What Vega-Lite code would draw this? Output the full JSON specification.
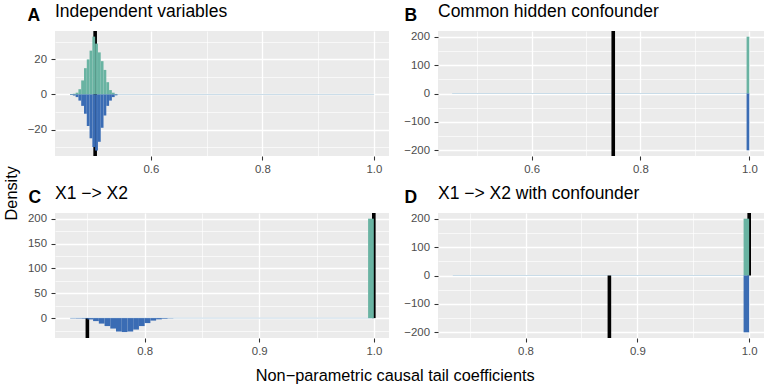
{
  "$schema": "https://vega.github.io/schema/vega-lite/v6.json",
  "autosize": {"type": "pad"},
  "padding": {"left": 3, "top": 2, "right": 0, "bottom": 0},
  "background": "white",
  "title": {"text": "Density", "orient": "left", "anchor": "middle", "frame": "bounds", "fontSize": 16.3, "fontWeight": "normal", "baseline": "alphabetic", "offset": -6, "color": "#000000"},
  "config": {
    "view": {"fill": "#EBEBEB", "stroke": null},
    "font": "Liberation Sans",
    "axis": {"domain": false, "gridColor": "#FFFFFF", "tickColor": "#333333", "tickWidth": 1.07, "tickSize": 4, "labelColor": "#4D4D4D", "labelFontSize": 11.4, "labelFont": "Liberation Sans", "titleFont": "Liberation Sans", "titleColor": "#000000"},
    "axisX": {"labelPadding": 3.5},
    "axisY": {"labelPadding": 4.5},
    "title": {"fontSize": 17.5, "fontWeight": "normal", "anchor": "start", "frame": "group", "color": "#000000", "font": "Liberation Sans", "baseline": "alphabetic", "offset": -14}
  },
  "columns": 2,
  "spacing": {"row": 57, "column": 49},
  "bounds": "flush",
  "concat": [
    {
      "width": 334, "height": 125,
      "title": {"text": "Independent variables"},
      "encoding": {
        "x": {"field": "x", "type": "quantitative", "scale": {"domain": [0.428, 1.027], "nice": false, "zero": false},
          "axis": {"title": null, "values": [0.5, 0.6, 0.7, 0.8, 0.9, 1], "format": ".1f",
            "labelExpr": "indexof([0.6, 0.8, 1], datum.value) >= 0 ? datum.label : ''",
            "gridWidth": {"condition": {"test": "indexof([0.6, 0.8, 1], datum.value) >= 0", "value": 1.3}, "value": 0.65},
            "tickOpacity": {"condition": {"test": "indexof([0.6, 0.8, 1], datum.value) >= 0", "value": 1}, "value": 0}}},
        "y": {"field": "y", "type": "quantitative", "scale": {"domain": [-35.1, 36.2], "nice": false, "zero": false},
          "axis": {"title": "A", "titleAngle": 0, "titleAlign": "left", "titleBaseline": "alphabetic", "titleX": -28, "titleY": -11, "titleFontSize": 17.5, "titleFontWeight": "bold",
            "values": [-30, -20, -10, 0, 10, 20, 30],
            "labelExpr": "indexof([-20, 0, 20], datum.value) >= 0 ? datum.label : ''",
            "gridWidth": {"condition": {"test": "indexof([-20, 0, 20], datum.value) >= 0", "value": 1.3}, "value": 0.65},
            "tickOpacity": {"condition": {"test": "indexof([-20, 0, 20], datum.value) >= 0", "value": 1}, "value": 0}}}
      },
      "layer": [
        {"data": {"values": [{"x": 0.455, "x2": 1, "y": 0}]}, "mark": {"type": "rule", "color": "#c9dce8", "strokeWidth": 1}, "encoding": {"x2": {"field": "x2"}}},
        {"data": {"values": [{"x": 0.5, "y": -35.1, "y2": 36.2}]}, "mark": {"type": "rule", "color": "#000000", "strokeWidth": 3.6}, "encoding": {"y2": {"field": "y2"}}},
        {"data": {"values": [
          {"x": 0.455, "x2": 0.46, "y": 0, "y2": 0.2, "g": "X1"},
          {"x": 0.46, "x2": 0.465, "y": 0, "y2": 0.4, "g": "X1"},
          {"x": 0.465, "x2": 0.47, "y": 0, "y2": 1, "g": "X1"},
          {"x": 0.47, "x2": 0.475, "y": 0, "y2": 3, "g": "X1"},
          {"x": 0.475, "x2": 0.48, "y": 0, "y2": 8, "g": "X1"},
          {"x": 0.48, "x2": 0.485, "y": 0, "y2": 15, "g": "X1"},
          {"x": 0.485, "x2": 0.49, "y": 0, "y2": 20, "g": "X1"},
          {"x": 0.49, "x2": 0.495, "y": 0, "y2": 25, "g": "X1"},
          {"x": 0.495, "x2": 0.5, "y": 0, "y2": 33, "g": "X1"},
          {"x": 0.5, "x2": 0.505, "y": 0, "y2": 29, "g": "X1"},
          {"x": 0.505, "x2": 0.51, "y": 0, "y2": 24, "g": "X1"},
          {"x": 0.51, "x2": 0.515, "y": 0, "y2": 19, "g": "X1"},
          {"x": 0.515, "x2": 0.52, "y": 0, "y2": 14, "g": "X1"},
          {"x": 0.52, "x2": 0.525, "y": 0, "y2": 7, "g": "X1"},
          {"x": 0.525, "x2": 0.53, "y": 0, "y2": 2.5, "g": "X1"},
          {"x": 0.53, "x2": 0.535, "y": 0, "y2": 1, "g": "X1"},
          {"x": 0.535, "x2": 0.54, "y": 0, "y2": 0.3, "g": "X1"},
          {"x": 0.455, "x2": 0.46, "y": 0, "y2": -0.3, "g": "X2"},
          {"x": 0.46, "x2": 0.465, "y": 0, "y2": -0.6, "g": "X2"},
          {"x": 0.465, "x2": 0.47, "y": 0, "y2": -1.5, "g": "X2"},
          {"x": 0.47, "x2": 0.475, "y": 0, "y2": -3.5, "g": "X2"},
          {"x": 0.475, "x2": 0.48, "y": 0, "y2": -6.5, "g": "X2"},
          {"x": 0.48, "x2": 0.485, "y": 0, "y2": -11, "g": "X2"},
          {"x": 0.485, "x2": 0.49, "y": 0, "y2": -18, "g": "X2"},
          {"x": 0.49, "x2": 0.495, "y": 0, "y2": -25, "g": "X2"},
          {"x": 0.495, "x2": 0.5, "y": 0, "y2": -30, "g": "X2"},
          {"x": 0.5, "x2": 0.505, "y": 0, "y2": -32, "g": "X2"},
          {"x": 0.505, "x2": 0.51, "y": 0, "y2": -27, "g": "X2"},
          {"x": 0.51, "x2": 0.515, "y": 0, "y2": -19, "g": "X2"},
          {"x": 0.515, "x2": 0.52, "y": 0, "y2": -12, "g": "X2"},
          {"x": 0.52, "x2": 0.525, "y": 0, "y2": -6.5, "g": "X2"},
          {"x": 0.525, "x2": 0.53, "y": 0, "y2": -3.5, "g": "X2"},
          {"x": 0.53, "x2": 0.535, "y": 0, "y2": -1.5, "g": "X2"},
          {"x": 0.535, "x2": 0.54, "y": 0, "y2": -0.5, "g": "X2"}
        ]}, "mark": {"type": "rect"}, "encoding": {"x2": {"field": "x2"}, "y2": {"field": "y2"},
          "color": {"field": "g", "type": "nominal", "scale": {"domain": ["X1", "X2"], "range": ["#69b3a2", "#3a6cb4"]}, "legend": null}}}
      ]
    },
    {
      "width": 326, "height": 125,
      "title": {"text": "Common hidden confounder"},
      "encoding": {
        "x": {"field": "x", "type": "quantitative", "scale": {"domain": [0.428, 1.027], "nice": false, "zero": false},
          "axis": {"title": null, "values": [0.5, 0.6, 0.7, 0.8, 0.9, 1], "format": ".1f",
            "labelExpr": "indexof([0.6, 0.8, 1], datum.value) >= 0 ? datum.label : ''",
            "gridWidth": {"condition": {"test": "indexof([0.6, 0.8, 1], datum.value) >= 0", "value": 1.3}, "value": 0.65},
            "tickOpacity": {"condition": {"test": "indexof([0.6, 0.8, 1], datum.value) >= 0", "value": 1}, "value": 0}}},
        "y": {"field": "y", "type": "quantitative", "scale": {"domain": [-220, 220], "nice": false, "zero": false},
          "axis": {"title": "B", "titleAngle": 0, "titleAlign": "left", "titleBaseline": "alphabetic", "titleX": -34, "titleY": -11, "titleFontSize": 17.5, "titleFontWeight": "bold",
            "values": [-200, -150, -100, -50, 0, 50, 100, 150, 200],
            "labelExpr": "indexof([-200, -100, 0, 100, 200], datum.value) >= 0 ? datum.label : ''",
            "gridWidth": {"condition": {"test": "indexof([-200, -100, 0, 100, 200], datum.value) >= 0", "value": 1.3}, "value": 0.65},
            "tickOpacity": {"condition": {"test": "indexof([-200, -100, 0, 100, 200], datum.value) >= 0", "value": 1}, "value": 0}}}
      },
      "layer": [
        {"data": {"values": [{"x": 0.454, "x2": 1, "y": 0}]}, "mark": {"type": "rule", "color": "#c9dce8", "strokeWidth": 1}, "encoding": {"x2": {"field": "x2"}}},
        {"data": {"values": [{"x": 0.75, "y": -220, "y2": 220}]}, "mark": {"type": "rule", "color": "#000000", "strokeWidth": 3.6}, "encoding": {"y2": {"field": "y2"}}},
        {"data": {"values": [
          {"x": 0.995, "x2": 1, "y": 0, "y2": 200, "g": "X1"},
          {"x": 0.995, "x2": 1, "y": 0, "y2": -200, "g": "X2"}
        ]}, "mark": {"type": "rect"}, "encoding": {"x2": {"field": "x2"}, "y2": {"field": "y2"},
          "color": {"field": "g", "type": "nominal", "scale": {"domain": ["X1", "X2"], "range": ["#69b3a2", "#3a6cb4"]}, "legend": null}}}
      ]
    },
    {
      "width": 334, "height": 125,
      "title": {"text": "X1 −> X2"},
      "encoding": {
        "x": {"field": "x", "type": "quantitative", "scale": {"domain": [0.72175, 1.01325], "nice": false, "zero": false},
          "axis": {"title": "Non−parametric causal tail coefficients", "titleX": 339.7, "titleY": 42.7, "titleAlign": "center", "titleBaseline": "alphabetic", "titleFontSize": 16.3, "titleFontWeight": "normal",
            "values": [0.75, 0.8, 0.85, 0.9, 0.95, 1], "format": ".1f",
            "labelExpr": "indexof([0.8, 0.9, 1], datum.value) >= 0 ? datum.label : ''",
            "gridWidth": {"condition": {"test": "indexof([0.8, 0.9, 1], datum.value) >= 0", "value": 1.3}, "value": 0.65},
            "tickOpacity": {"condition": {"test": "indexof([0.8, 0.9, 1], datum.value) >= 0", "value": 1}, "value": 0}}},
        "y": {"field": "y", "type": "quantitative", "scale": {"domain": [-40, 211.4], "nice": false, "zero": false},
          "axis": {"title": "C", "titleAngle": 0, "titleAlign": "left", "titleBaseline": "alphabetic", "titleX": -27, "titleY": -11, "titleFontSize": 17.5, "titleFontWeight": "bold",
            "values": [-25, 0, 25, 50, 75, 100, 125, 150, 175, 200],
            "labelExpr": "indexof([0, 50, 100, 150, 200], datum.value) >= 0 ? datum.label : ''",
            "gridWidth": {"condition": {"test": "indexof([0, 50, 100, 150, 200], datum.value) >= 0", "value": 1.3}, "value": 0.65},
            "tickOpacity": {"condition": {"test": "indexof([0, 50, 100, 150, 200], datum.value) >= 0", "value": 1}, "value": 0}}}
      },
      "layer": [
        {"data": {"values": [{"x": 0.735, "x2": 1, "y": 0}]}, "mark": {"type": "rule", "color": "#c9dce8", "strokeWidth": 1}, "encoding": {"x2": {"field": "x2"}}},
        {"data": {"values": [{"x": 0.75, "y": 0, "y2": -40}, {"x": 1, "y": 0, "y2": 211.4}]}, "mark": {"type": "rule", "color": "#000000", "strokeWidth": 3.6}, "encoding": {"y2": {"field": "y2"}}},
        {"data": {"values": [
          {"x": 0.995, "x2": 1, "y": 0, "y2": 200, "g": "X1"},
          {"x": 0.735, "x2": 0.74, "y": 0, "y2": -0.5, "g": "X2"},
          {"x": 0.74, "x2": 0.745, "y": 0, "y2": -0.7, "g": "X2"},
          {"x": 0.745, "x2": 0.75, "y": 0, "y2": -1, "g": "X2"},
          {"x": 0.75, "x2": 0.755, "y": 0, "y2": -2.7, "g": "X2"},
          {"x": 0.755, "x2": 0.76, "y": 0, "y2": -6, "g": "X2"},
          {"x": 0.76, "x2": 0.765, "y": 0, "y2": -11, "g": "X2"},
          {"x": 0.765, "x2": 0.77, "y": 0, "y2": -16, "g": "X2"},
          {"x": 0.77, "x2": 0.775, "y": 0, "y2": -21, "g": "X2"},
          {"x": 0.775, "x2": 0.78, "y": 0, "y2": -27, "g": "X2"},
          {"x": 0.78, "x2": 0.785, "y": 0, "y2": -28, "g": "X2"},
          {"x": 0.785, "x2": 0.79, "y": 0, "y2": -27, "g": "X2"},
          {"x": 0.79, "x2": 0.795, "y": 0, "y2": -23, "g": "X2"},
          {"x": 0.795, "x2": 0.8, "y": 0, "y2": -16, "g": "X2"},
          {"x": 0.8, "x2": 0.805, "y": 0, "y2": -10, "g": "X2"},
          {"x": 0.805, "x2": 0.81, "y": 0, "y2": -5, "g": "X2"},
          {"x": 0.81, "x2": 0.815, "y": 0, "y2": -2.5, "g": "X2"},
          {"x": 0.815, "x2": 0.82, "y": 0, "y2": -1.2, "g": "X2"},
          {"x": 0.82, "x2": 0.825, "y": 0, "y2": -0.4, "g": "X2"}
        ]}, "mark": {"type": "rect"}, "encoding": {"x2": {"field": "x2"}, "y2": {"field": "y2"},
          "color": {"field": "g", "type": "nominal", "scale": {"domain": ["X1", "X2"], "range": ["#69b3a2", "#3a6cb4"]}, "legend": null}}}
      ]
    },
    {
      "width": 326, "height": 125,
      "title": {"text": "X1 −> X2 with confounder"},
      "encoding": {
        "x": {"field": "x", "type": "quantitative", "scale": {"domain": [0.72175, 1.01325], "nice": false, "zero": false},
          "axis": {"title": null, "values": [0.75, 0.8, 0.85, 0.9, 0.95, 1], "format": ".1f",
            "labelExpr": "indexof([0.8, 0.9, 1], datum.value) >= 0 ? datum.label : ''",
            "gridWidth": {"condition": {"test": "indexof([0.8, 0.9, 1], datum.value) >= 0", "value": 1.3}, "value": 0.65},
            "tickOpacity": {"condition": {"test": "indexof([0.8, 0.9, 1], datum.value) >= 0", "value": 1}, "value": 0}}},
        "y": {"field": "y", "type": "quantitative", "scale": {"domain": [-220, 220], "nice": false, "zero": false},
          "axis": {"title": "D", "titleAngle": 0, "titleAlign": "left", "titleBaseline": "alphabetic", "titleX": -34, "titleY": -11, "titleFontSize": 17.5, "titleFontWeight": "bold",
            "values": [-200, -150, -100, -50, 0, 50, 100, 150, 200],
            "labelExpr": "indexof([-200, -100, 0, 100, 200], datum.value) >= 0 ? datum.label : ''",
            "gridWidth": {"condition": {"test": "indexof([-200, -100, 0, 100, 200], datum.value) >= 0", "value": 1.3}, "value": 0.65},
            "tickOpacity": {"condition": {"test": "indexof([-200, -100, 0, 100, 200], datum.value) >= 0", "value": 1}, "value": 0}}}
      },
      "layer": [
        {"data": {"values": [{"x": 0.735, "x2": 1, "y": 0}]}, "mark": {"type": "rule", "color": "#c9dce8", "strokeWidth": 1}, "encoding": {"x2": {"field": "x2"}}},
        {"data": {"values": [{"x": 0.875, "y": 0, "y2": -220}, {"x": 1, "y": 0, "y2": 220}]}, "mark": {"type": "rule", "color": "#000000", "strokeWidth": 3.6}, "encoding": {"y2": {"field": "y2"}}},
        {"data": {"values": [
          {"x": 0.995, "x2": 1, "y": 0, "y2": 200, "g": "X1"},
          {"x": 0.995, "x2": 1, "y": 0, "y2": -200, "g": "X2"}
        ]}, "mark": {"type": "rect"}, "encoding": {"x2": {"field": "x2"}, "y2": {"field": "y2"},
          "color": {"field": "g", "type": "nominal", "scale": {"domain": ["X1", "X2"], "range": ["#69b3a2", "#3a6cb4"]}, "legend": null}}}
      ]
    }
  ]
}
